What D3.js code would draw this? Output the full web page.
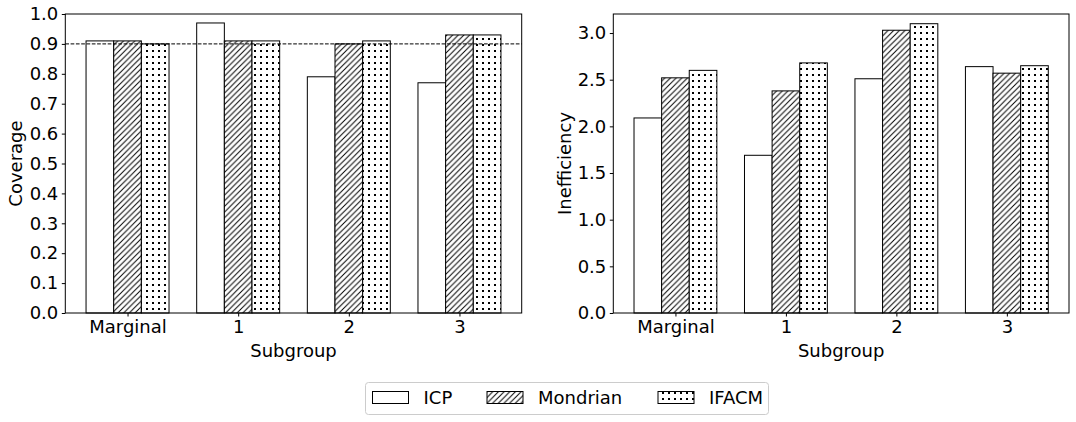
<!DOCTYPE html>
<html>
<head>
<meta charset="utf-8">
<script src="https://cdn.jsdelivr.net/npm/d3@7"></script>
<style>
  body { margin: 0; background: #fff; }
  svg text { font-family: "DejaVu Sans", sans-serif; fill: #000; }
</style>
</head>
<body>
<div id="vis"></div>
<script>
// datos
const categories = ["Marginal", "1", "2", "3"];
const methods = ["ICP", "Mondrian", "IFACM"];

const coverageICP = [0.91, 0.97, 0.79, 0.77];
const coverageMondrian = [0.91, 0.91, 0.90, 0.93];
const coverageIFACM = [0.90, 0.91, 0.91, 0.93];

const ineffICP = [2.09, 1.69, 2.51, 2.64];
const ineffMondrian = [2.52, 2.38, 3.03, 2.57];
const ineffIFACM = [2.60, 2.68, 3.10, 2.65];

const coverageTicks = [0, 0.1, 0.2, 0.3, 0.4, 0.5, 0.6, 0.7, 0.8, 0.9, 1.0];
const ineffTicks = [0, 0.5, 1.0, 1.5, 2.0, 2.5, 3.0];
const targetCoverage = 0.9;

const fills = ["#fff", "url(#hatchDiag)", "url(#hatchDots)"];

const svg = d3.select("#vis")
  .append("svg")
  .attr("width", 1076)
  .attr("height", 422);

// patrones de relleno (hatch)
const defs = svg.append("defs");
const s = 5.67;
const diag = defs.append("pattern")
  .attr("id", "hatchDiag")
  .attr("patternUnits", "userSpaceOnUse")
  .attr("width", s).attr("height", s);
diag.append("rect").attr("width", s).attr("height", s).attr("fill", "#fff");
diag.append("path")
  .attr("d", `M0,${s} L${s},0 M${-s/4},${s/4} L${s/4},${-s/4} M${s*3/4},${s*5/4} L${s*5/4},${s*3/4}`)
  .attr("stroke", "#000").attr("stroke-width", 1);

const d = 6;
const dots = defs.append("pattern")
  .attr("id", "hatchDots")
  .attr("patternUnits", "userSpaceOnUse")
  .attr("width", d).attr("height", d);
dots.append("rect").attr("width", d).attr("height", d).attr("fill", "#fff");
dots.append("rect").attr("x", 2).attr("y", 2).attr("width", 2).attr("height", 2)
  .attr("fill", "#000").attr("shape-rendering", "crispEdges");

function drawPanel(opts) {
  const { x0, x1, yMax, series, ticks, ylabel, yLabelX, fmt } = opts;
  const top = 14, bottom = 313;

  const x = d3.scaleLinear().domain([-0.5625, 3.5625]).range([x0, x1]);
  const y = d3.scaleLinear().domain([0, yMax]).range([bottom, top]);
  const g = svg.append("g");

  // barras
  series.forEach((vals, k) => {
    g.selectAll(null)
      .data(vals)
      .enter()
      .append("rect")
      .attr("x", (v, i) => x(i + (k - 1) * 0.25 - 0.125))
      .attr("y", v => y(v))
      .attr("width", x(0.25) - x(0))
      .attr("height", v => y(0) - y(v))
      .attr("fill", fills[k])
      .attr("stroke", "#000")
      .attr("stroke-width", 1);
  });

  if (opts.hline !== undefined) {
    g.append("line")
      .attr("x1", x0).attr("x2", x1)
      .attr("y1", y(opts.hline)).attr("y2", y(opts.hline))
      .attr("stroke", "#000").attr("stroke-width", 1)
      .attr("stroke-dasharray", "3.7,1.6");
  }

  // ejes
  const yAxis = g.append("g")
    .attr("transform", `translate(${x0},0)`)
    .call(d3.axisLeft(y).tickValues(ticks).tickFormat(fmt).tickSize(3.5).tickPadding(3.5));
  const xAxis = g.append("g")
    .attr("transform", `translate(0,${bottom})`)
    .call(d3.axisBottom(x).tickValues([0, 1, 2, 3]).tickFormat(i => categories[i]).tickSize(3.5).tickPadding(3.5));
  [yAxis, xAxis].forEach(a => {
    a.select(".domain").remove();
    a.selectAll("text").attr("font-size", 18).attr("font-family", "DejaVu Sans");
    a.selectAll("line").attr("stroke", "#000");
  });

  // marco
  g.append("rect")
    .attr("x", x0).attr("y", top)
    .attr("width", x1 - x0).attr("height", bottom - top)
    .attr("fill", "none").attr("stroke", "#000").attr("stroke-width", 1);

  g.append("text")
    .attr("x", (x0 + x1) / 2).attr("y", 357)
    .attr("text-anchor", "middle").attr("font-size", 18)
    .text("Subgroup");

  g.append("text")
    .attr("transform", `translate(${yLabelX},${(top + bottom) / 2}) rotate(-90)`)
    .attr("text-anchor", "middle").attr("font-size", 18)
    .text(ylabel);
}

drawPanel({
  x0: 65.3, x1: 521.7, yMax: 1.0,
  series: [coverageICP, coverageMondrian, coverageIFACM],
  ticks: coverageTicks, ylabel: "Coverage", yLabelX: 22,
  fmt: d3.format(".1f"), hline: targetCoverage
});

drawPanel({
  x0: 613.3, x1: 1069, yMax: 3.204,
  series: [ineffICP, ineffMondrian, ineffIFACM],
  ticks: ineffTicks, ylabel: "Inefficiency", yLabelX: 571,
  fmt: d3.format(".1f")
});

// leyenda
const legend = svg.append("g");
legend.append("rect")
  .attr("x", 365.5).attr("y", 382.5)
  .attr("width", 403).attr("height", 32)
  .attr("rx", 3)
  .attr("fill", "#fff").attr("stroke", "#ccc").attr("stroke-width", 1);

const legendX = [372.5, 487, 658];
methods.forEach((m, k) => {
  legend.append("rect")
    .attr("x", legendX[k]).attr("y", 391.5)
    .attr("width", 36).attr("height", 12)
    .attr("fill", fills[k]).attr("stroke", "#000").attr("stroke-width", 1);
  legend.append("text")
    .attr("x", legendX[k] + 51).attr("y", 404)
    .attr("font-size", 18)
    .text(m);
});
</script>
</body>
</html>
